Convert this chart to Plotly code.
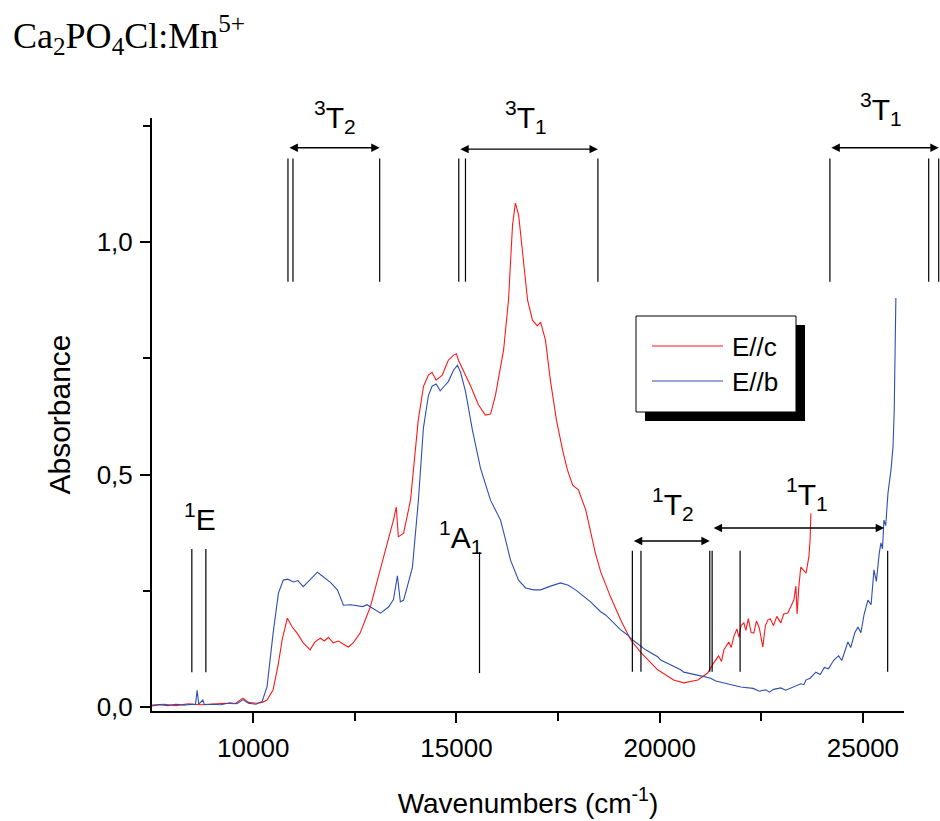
import plotly.graph_objects as go

# ---------------- data ----------------
series_names = ["E//c", "E//b"]
series_colors = ["#ff1a1a", "#2f4fae"]

wn_c = [7510, 7800, 8100, 8400, 8700, 9000, 9300, 9550, 9750, 9880, 10080, 10220, 10340, 10490,
        10620, 10710, 10840, 10960, 11080, 11230, 11400, 11520, 11650, 11750, 11850, 11970, 12100,
        12220, 12340, 12460, 12630, 12880, 13130, 13300, 13450, 13520, 13570, 13700, 13870, 14060,
        14190, 14310, 14400, 14500, 14650, 14800, 14930, 15000, 15050, 15170, 15340, 15540, 15710,
        15840, 15960, 16160, 16280, 16380, 16450, 16530, 16630, 16750, 16870, 16990, 17070, 17190,
        17310, 17460, 17610, 17730, 17860, 18000, 18180, 18300, 18420, 18550, 18670, 18790, 19040,
        19290, 19530, 19950, 20345, 20590, 20940, 21180, 21330, 21450, 21520, 21580, 21700, 21760,
        21820, 21900, 21950, 22000, 22070, 22120, 22180, 22250, 22315, 22380, 22450, 22537, 22600,
        22660, 22720, 22800, 22880, 22980, 23050, 23150, 23220, 23300, 23350, 23380, 23423, 23470,
        23530, 23600, 23670, 23700, 23719]
abs_c = [0.004, 0.006, 0.003, 0.007, 0.005, 0.006, 0.008, 0.007, 0.019, 0.010, 0.008, 0.010, 0.015, 0.037,
         0.094, 0.144, 0.191, 0.172, 0.159, 0.138, 0.123, 0.140, 0.148, 0.142, 0.150, 0.138, 0.142,
         0.135, 0.129, 0.138, 0.159, 0.215, 0.301, 0.353, 0.402, 0.430, 0.366, 0.374, 0.445, 0.617,
         0.690, 0.714, 0.720, 0.703, 0.714, 0.746, 0.757, 0.760, 0.746, 0.725, 0.692, 0.650, 0.628,
         0.630, 0.671, 0.768, 0.875, 1.037, 1.084, 1.058, 0.972, 0.875, 0.832, 0.820, 0.828, 0.789,
         0.703, 0.617, 0.553, 0.510, 0.477, 0.467, 0.424, 0.380, 0.330, 0.290, 0.262, 0.237, 0.187,
         0.144, 0.118, 0.080, 0.058, 0.052, 0.058, 0.073, 0.095, 0.110, 0.098, 0.123, 0.140, 0.128,
         0.151, 0.168, 0.150, 0.175, 0.181, 0.165, 0.190, 0.160, 0.159, 0.185, 0.170, 0.129, 0.175,
         0.187, 0.190, 0.175, 0.195, 0.181, 0.200, 0.202, 0.215, 0.230, 0.260, 0.200, 0.258, 0.301,
         0.295, 0.288, 0.323, 0.360, 0.417]

wn_b = [7510, 7700, 7900, 8100, 8300, 8500, 8580, 8620, 8660, 8760, 8800, 9000, 9200, 9430, 9600,
        9750, 9880, 10070, 10220, 10340, 10490, 10620, 10740, 10850, 10990, 11100, 11230, 11400,
        11580, 11650, 11770, 11900, 12070, 12220, 12400, 12560, 12700, 12800, 12960, 13130, 13330,
        13450, 13547, 13620, 13700, 13916, 14064, 14187, 14310, 14400, 14500, 14600, 14700, 14800,
        14930, 15025, 15100, 15220, 15394, 15591, 15837, 16084, 16207, 16330, 16527, 16700, 16900,
        17070, 17315, 17561, 17750, 17931, 18100, 18300, 18547, 18670, 19040, 19212, 19335, 19655,
        19951, 20024, 20517, 20591, 21010, 21256, 21379, 21995, 22300, 22450, 22610, 22700, 22800,
        22980, 23100, 23300, 23473, 23550, 23596, 23700, 23842, 23950, 24050, 24150, 24285, 24400,
        24480, 24630, 24700, 24800, 24877, 24950, 25030, 25123, 25200, 25271, 25330, 25400, 25443,
        25480, 25517, 25560, 25616, 25690, 25740, 25770, 25790, 25810]
abs_b = [0.002, 0.005, 0.003, 0.006, 0.004, 0.006, 0.005, 0.036, 0.006, 0.015, 0.005, 0.006, 0.005, 0.009, 0.007,
         0.016, 0.008, 0.006, 0.012, 0.044, 0.159, 0.245, 0.273, 0.275, 0.269, 0.272, 0.259, 0.275,
         0.290, 0.285, 0.277, 0.268, 0.252, 0.219, 0.220, 0.217, 0.216, 0.220, 0.212, 0.202, 0.215,
         0.231, 0.282, 0.226, 0.230, 0.300, 0.445, 0.600, 0.670, 0.690, 0.695, 0.680, 0.690, 0.700,
         0.725, 0.735, 0.720, 0.680, 0.595, 0.514, 0.445, 0.402, 0.360, 0.316, 0.273, 0.256, 0.252,
         0.252, 0.260, 0.267, 0.262, 0.252, 0.240, 0.226, 0.205, 0.198, 0.166, 0.155, 0.144, 0.123,
         0.108, 0.101, 0.080, 0.075, 0.067, 0.062, 0.056, 0.043, 0.040, 0.034, 0.037, 0.032, 0.038,
         0.041, 0.036, 0.043, 0.050, 0.048, 0.058, 0.062, 0.075, 0.070, 0.085, 0.082, 0.101, 0.110,
         0.100, 0.140, 0.128, 0.160, 0.172, 0.160, 0.200, 0.230, 0.220, 0.295, 0.270, 0.330, 0.353,
         0.340, 0.402, 0.390, 0.460, 0.510, 0.560, 0.640, 0.750, 0.880]

# transition marker lines: wavenumber, bottom, top
marker_wn = [8490, 8835, 15567,
             10855, 10978, 13111,
             15057, 15222, 18480,
             24187, 26618, 26864,
             19327, 19539, 21232, 21290, 21978, 25608]
marker_bottom = [0.075, 0.075, 0.073,
                 0.915, 0.915, 0.915,
                 0.915, 0.915, 0.915,
                 0.915, 0.915, 0.915,
                 0.076, 0.076, 0.076, 0.076, 0.076, 0.076]
marker_top = [0.340, 0.340, 0.333,
              1.180, 1.180, 1.180,
              1.180, 1.180, 1.180,
              1.180, 1.180, 1.180,
              0.336, 0.336, 0.336, 0.336, 0.336, 0.336]

# double arrows: start, end, level
arrow_start = [10855, 15057, 24187, 19327, 21290]
arrow_end = [13111, 18480, 26864, 21232, 25520]
arrow_level = [1.203, 1.200, 1.203, 0.357, 0.385]

# state labels
label_text = ["<sup>1</sup>E", "<sup>1</sup>A<sub>1</sub>", "<sup>3</sup>T<sub>2</sub>",
              "<sup>3</sup>T<sub>1</sub>", "<sup>3</sup>T<sub>1</sub>",
              "<sup>1</sup>T<sub>2</sub>", "<sup>1</sup>T<sub>1</sub>"]
label_wn = [8700, 15100, 12000, 16720, 25440, 20320, 23620]
label_level = [0.409, 0.365, 1.269, 1.269, 1.287, 0.436, 0.459]

x_ticks = [10000, 15000, 20000, 25000]
x_minor = [12500, 17500, 22500]
y_ticks = [0.0, 0.5, 1.0]
y_ticklabels = ["0,0", "0,5", "1,0"]
y_minor = [0.25, 0.75, 1.25]

X_RANGE = [7510, 26010]
Y_RANGE = [-0.0086, 1.267]

# ---------------- layout geometry (page pixels; body margin removed below) ----------------
W, H = 940, 821
ML, MR, MT, MB = 152, 0, 118, H - 711
plot_w = W - ML - MR
plot_h = H - MT - MB
main_frac = (904 - ML) / plot_w          # main x-axis domain fraction
x2_range = [X_RANGE[0], X_RANGE[0] + (X_RANGE[1] - X_RANGE[0]) / main_frac]
px_per_unit_y = plot_h / (Y_RANGE[1] - Y_RANGE[0])
Y_LABEL_CAP = 1.25

SANS = "Liberation Sans, Arial, sans-serif"

fig = go.Figure()

for name, color, xs, ys in [(series_names[0], series_colors[0], wn_c, abs_c),
                            (series_names[1], series_colors[1], wn_b, abs_b)]:
    fig.add_trace(go.Scatter(x=xs, y=ys, mode="lines", name=name,
                             line=dict(color=color, width=1.1), showlegend=False,
                             xaxis="x", yaxis="y"))

# marker lines on the extended (hidden) axis so they can go past the axis end
mx, my = [], []
for w, b, t in zip(marker_wn, marker_bottom, marker_top):
    mx += [w, w, None]
    my += [b, t, None]
fig.add_trace(go.Scatter(x=mx, y=my, mode="lines", line=dict(color="black", width=1.2),
                         showlegend=False, hoverinfo="skip", xaxis="x2", yaxis="y"))

annotations = []
for s, e, lv in zip(arrow_start, arrow_end, arrow_level):
    annotations.append(dict(x=e, y=lv, ax=s, ay=lv, xref="x2", yref="y", axref="x2", ayref="y",
                            showarrow=True, arrowhead=2, arrowside="end+start", arrowsize=1.2,
                            arrowwidth=1.4, arrowcolor="black", text="", standoff=0, startstandoff=0))
for txt, w, lv in zip(label_text, label_wn, label_level):
    ya = min(lv, Y_LABEL_CAP)
    annotations.append(dict(x=w, y=ya, yshift=(lv - ya) * px_per_unit_y, xref="x2", yref="y",
                            text=txt, showarrow=False,
                            font=dict(family=SANS, size=30, color="black"),
                            xanchor="center", yanchor="middle"))

# legend (drawn by hand to match the boxed, shadowed key); page pixel -> paper
def px_x(p):
    return (p - ML) / plot_w
def px_y(p):
    return (H - MB - p) / plot_h

shapes = [
    dict(type="rect", xref="paper", yref="paper", x0=px_x(645), x1=px_x(805), y0=px_y(421), y1=px_y(325),
         fillcolor="black", line=dict(width=0), layer="above"),
    dict(type="rect", xref="paper", yref="paper", x0=px_x(636), x1=px_x(796), y0=px_y(412), y1=px_y(316),
         fillcolor="white", line=dict(color="black", width=1), layer="above"),
]
for i, (name, color) in enumerate(zip(series_names, series_colors)):
    yy = [346, 381][i]
    shapes.append(dict(type="line", xref="paper", yref="paper", x0=px_x(652), x1=px_x(723),
                       y0=px_y(yy), y1=px_y(yy), line=dict(color=color, width=1.2), layer="above"))
    annotations.append(dict(x=px_x(730), y=px_y(yy + 1), xref="paper", yref="paper", text=name,
                            showarrow=False, xanchor="left", yanchor="middle",
                            font=dict(family=SANS, size=26, color="black")))

fig.update_layout(
    width=W, height=H,
    margin=dict(l=ML, r=MR, t=MT, b=MB, pad=0, autoexpand=False),
    paper_bgcolor="white", plot_bgcolor="rgba(0,0,0,0)",
    title=dict(text="Ca<sub>2</sub>PO<sub>4</sub>Cl:Mn<sup>5+</sup>",
               font=dict(family="Liberation Serif, Times New Roman, serif", size=36, color="black"),
               x=13 / W, xanchor="left", xref="container",
               y=1 - 35 / H, yanchor="middle", yref="container", automargin=False),
    xaxis=dict(domain=[0, main_frac], range=X_RANGE, anchor="y", automargin=False,
               tickmode="array", tickvals=x_ticks, ticktext=[str(v) for v in x_ticks],
               ticks="outside", ticklen=10, tickwidth=2, tickcolor="black",
               minor=dict(tickmode="array", tickvals=x_minor, ticks="outside", ticklen=8,
                          tickwidth=2, tickcolor="black"),
               showline=True, linecolor="black", linewidth=2, showgrid=False, zeroline=False,
               tickfont=dict(family=SANS, size=26, color="black"), ticklabelstandoff=3,
               title=dict(text="Wavenumbers (cm<sup>-1</sup>)", standoff=31,
                          font=dict(family=SANS, size=28, color="black"))),
    xaxis2=dict(domain=[0, 1], range=x2_range, anchor="y", visible=False, automargin=False),
    yaxis=dict(domain=[0, 1], range=Y_RANGE, anchor="x", automargin=False,
               tickmode="array", tickvals=y_ticks, ticktext=y_ticklabels,
               ticks="outside", ticklen=10, tickwidth=2, tickcolor="black",
               minor=dict(tickmode="array", tickvals=y_minor, ticks="outside", ticklen=7,
                          tickwidth=2, tickcolor="black"),
               showline=True, linecolor="black", linewidth=2, showgrid=False, zeroline=False,
               tickfont=dict(family=SANS, size=26, color="black"), ticklabelstandoff=2,
               title=dict(text="Absorbance", standoff=17,
                          font=dict(family=SANS, size=30, color="black"))),
    annotations=annotations,
    shapes=shapes,
    showlegend=False,
)

# remove the default 8 px page margin so the figure fills the 940x821 window exactly
fig.write_html("out.html", config={"displayModeBar": False},
               post_script="document.body.style.margin='0';document.body.style.overflow='hidden';")
